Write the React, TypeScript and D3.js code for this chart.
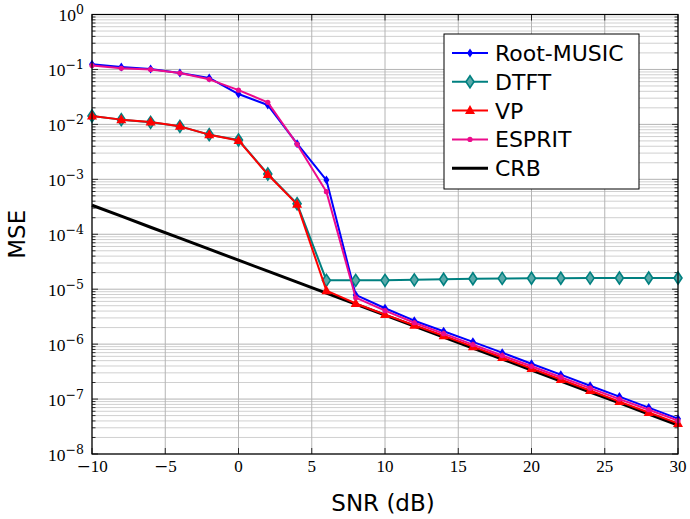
import React from 'react'
import * as d3 from 'd3'

const snr = [-10, -8, -6, -4, -2, 0, 2, 4, 6, 8, 10, 12, 14, 16, 18, 20, 22, 24, 26, 28, 30]

const rootMusic = [0.124, 0.111, 0.102, 0.086, 0.070, 0.0357, 0.0225, 0.00445, 9.7e-4, 7.85e-6, 4.5e-6, 2.67e-6,
  1.72e-6, 1.1e-6, 7.0e-7, 4.4e-7, 2.78e-7, 1.75e-7, 1.11e-7, 7.0e-8, 4.4e-8]
const dtft = [0.0142, 0.0122, 0.0109, 0.0092, 0.0065, 0.0052, 0.00125, 3.6e-4, 1.45e-5, 1.45e-5, 1.45e-5, 1.48e-5,
  1.52e-5, 1.55e-5, 1.57e-5, 1.58e-5, 1.58e-5, 1.59e-5, 1.6e-5, 1.6e-5, 1.6e-5]
const vp = [0.0142, 0.0122, 0.011, 0.0092, 0.0065, 0.0051, 0.00122, 3.5e-4, 9.4e-6, 5.5e-6, 3.45e-6, 2.2e-6,
  1.42e-6, 9.0e-7, 5.7e-7, 3.6e-7, 2.27e-7, 1.43e-7, 9.0e-8, 5.7e-8, 3.6e-8]
const esprit = [0.118, 0.105, 0.100, 0.086, 0.066, 0.042, 0.0252, 0.00434, 5.95e-4, 7.0e-6, 4.07e-6, 2.45e-6,
  1.55e-6, 9.8e-7, 6.2e-7, 3.95e-7, 2.5e-7, 1.58e-7, 1.0e-7, 6.4e-8, 4.05e-8]
const crb = [3.37e-4, 2.13e-4, 1.34e-4, 8.5e-5, 5.35e-5, 3.37e-5, 2.13e-5, 1.34e-5, 8.5e-6, 5.35e-6, 3.37e-6, 2.13e-6,
  1.34e-6, 8.5e-7, 5.35e-7, 3.37e-7, 2.13e-7, 1.34e-7, 8.5e-8, 5.35e-8, 3.37e-8]

const xTicks = [-10, -5, 0, 5, 10, 15, 20, 25, 30]
const yExponents = [0, -1, -2, -3, -4, -5, -6, -7, -8]
const legendNames = ['Root-MUSIC', 'DTFT', 'VP', 'ESPRIT', 'CRB']

const W = 690
const H = 519
const left = 92
const right = 678
const top = 14.5
const bottom = 454

const x = d3.scaleLinear().domain([-10, 30]).range([left, right])
const y = d3.scaleLog().domain([1e-8, 1]).range([bottom, top])

const sansFont = "'DejaVu Sans', sans-serif"
const serifFont = "'Liberation Serif', 'DejaVu Serif', serif"
const minusFont = "'DejaVu Serif', serif"

function Marker({ kind, cx, cy, color }: { kind: string, cx: number, cy: number, color: string }) {
  if (kind === 'diamond') {
    return <path d={`M${cx},${cy - 4.5}L${cx + 3},${cy}L${cx},${cy + 4.5}L${cx - 3},${cy}Z`} fill={color} />
  }
  if (kind === 'bigdiamond') {
    return <path d={`M${cx},${cy - 6}L${cx + 4},${cy}L${cx},${cy + 6}L${cx - 4},${cy}Z`}
      fill="#5aa9a9" stroke={color} strokeWidth={1.6} />
  }
  if (kind === 'triangle') {
    return <path d={`M${cx},${cy - 5.5}L${cx + 5},${cy + 3.5}L${cx - 5},${cy + 3.5}Z`} fill={color} />
  }
  if (kind === 'circle') {
    return <circle cx={cx} cy={cy} r={2.6} fill={color} />
  }
  return null
}

export default function App() {
  const series = [
    { name: 'CRB', values: crb, color: '#000000', width: 3, mark: 'none' },
    { name: 'Root-MUSIC', values: rootMusic, color: '#0000ff', width: 2, mark: 'diamond' },
    { name: 'DTFT', values: dtft, color: '#008080', width: 2, mark: 'bigdiamond' },
    { name: 'VP', values: vp, color: '#ff0000', width: 2, mark: 'triangle' },
    { name: 'ESPRIT', values: esprit, color: '#ec0c8c', width: 2, mark: 'circle' },
  ]

  const line = d3.line<number>()
    .x((d, i) => x(snr[i]))
    .y(d => y(d))

  const minorY: number[] = []
  for (let k = -8; k < 0; k++) {
    for (let m = 2; m <= 9; m++) minorY.push(m * Math.pow(10, k))
  }

  return (
    <div style={{ position: 'absolute', left: 0, top: 0 }}>
      <svg width={W} height={H} style={{ display: 'block', background: '#fff' }}>
        {/* grid */}
        <g>
          {minorY.map((v, i) => (
            <line key={'mg' + i} x1={left} x2={right} y1={y(v)} y2={y(v)} stroke="#d0d0d0" strokeWidth={1} />
          ))}
          {yExponents.map(e => (
            <line key={'yg' + e} x1={left} x2={right} y1={y(Math.pow(10, e))} y2={y(Math.pow(10, e))}
              stroke="#b4b4b4" strokeWidth={1} />
          ))}
          {xTicks.map(t => (
            <line key={'xg' + t} x1={x(t)} x2={x(t)} y1={top} y2={bottom} stroke="#b4b4b4" strokeWidth={1} />
          ))}
        </g>

        {/* ticks */}
        <g stroke="#000" strokeWidth={0.8}>
          {minorY.map((v, i) => (
            <g key={'mt' + i}>
              <line x1={left} x2={left + 3.5} y1={y(v)} y2={y(v)} />
              <line x1={right} x2={right - 3.5} y1={y(v)} y2={y(v)} />
            </g>
          ))}
          {yExponents.map(e => (
            <g key={'yt' + e}>
              <line x1={left} x2={left + 6} y1={y(Math.pow(10, e))} y2={y(Math.pow(10, e))} />
              <line x1={right} x2={right - 6} y1={y(Math.pow(10, e))} y2={y(Math.pow(10, e))} />
            </g>
          ))}
          {xTicks.map(t => (
            <g key={'xt' + t}>
              <line x1={x(t)} x2={x(t)} y1={bottom} y2={bottom - 6} />
              <line x1={x(t)} x2={x(t)} y1={top} y2={top + 6} />
            </g>
          ))}
        </g>

        {/* data */}
        <g>
          {series.map(s => (
            <g key={s.name}>
              <path d={line(s.values) || ''} fill="none" stroke={s.color} strokeWidth={s.width}
                strokeLinejoin="round" />
              {s.values.map((v, i) => (
                <Marker key={i} kind={s.mark} cx={x(snr[i])} cy={y(v)} color={s.color} />
              ))}
            </g>
          ))}
        </g>

        <rect x={left} y={top} width={right - left} height={bottom - top} fill="none" stroke="#000" strokeWidth={1.2} />

        {/* tick labels */}
        <g fontFamily={serifFont} fill="#000">
          {xTicks.map(t => (
            <text key={'xl' + t} x={x(t)} y={472} fontSize={17} textAnchor="middle">
              {t < 0 ? <tspan fontFamily={minusFont}>{'\u2212'}</tspan> : null}{String(Math.abs(t))}
            </text>
          ))}
          {yExponents.map(e => (
            <text key={'yl' + e} x={84} y={y(Math.pow(10, e)) + 6.5} fontSize={17.5} textAnchor="end">
              10<tspan dy={-7} fontSize={12.5} fontFamily={minusFont}>{e < 0 ? '\u2212' + Math.abs(e) : String(e)}</tspan>
            </text>
          ))}
        </g>

        {/* axis labels */}
        <text x={383} y={511} fontFamily={sansFont} fontSize={23} textAnchor="middle">SNR (dB)</text>
        <text transform={`translate(25,${(top + bottom) / 2}) rotate(-90)`} fontFamily={sansFont} fontSize={23}
          textAnchor="middle">MSE</text>

        {/* legend */}
        <g>
          <rect x={444} y={34} width={195} height={155} fill="#fff" stroke="#000" strokeWidth={1} />
          {legendNames.map((name, i) => {
            const s = series.find(d => d.name === name)!
            const ly = 53 + i * 28.8
            return (
              <g key={'lg' + name}>
                <line x1={452} x2={488} y1={ly} y2={ly} stroke={s.color} strokeWidth={s.width} />
                <Marker kind={s.mark} cx={470} cy={ly} color={s.color} />
                <text x={495} y={ly + 8} fontFamily={sansFont} fontSize={22}>{name}</text>
              </g>
            )
          })}
        </g>
      </svg>
    </div>
  )
}
